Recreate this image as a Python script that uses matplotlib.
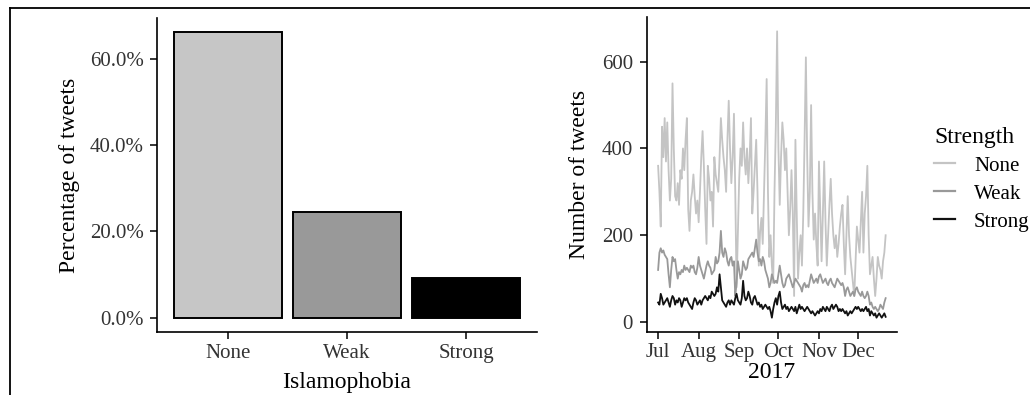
import numpy as np
import pandas as pd
import matplotlib
matplotlib.use('Agg')
import matplotlib.pyplot as plt
import matplotlib.dates as mdates
from matplotlib.lines import Line2D

plt.rcParams['font.family'] = ['Liberation Serif', 'DejaVu Serif']

# bar panel
levels = ['None', 'Weak', 'Strong']
share = [66.2, 24.5, 9.3]
bar_colors = ['#c6c6c6', '#999999', '#000000']

# daily counts, 2017-07-01 onward
none_counts = [360, 300, 220, 450, 380, 470, 370, 460, 350, 280, 330, 550, 400, 290, 280,
               320, 270, 350, 330, 400, 350, 420, 470, 260, 210, 280, 300, 340, 290, 250,
               280, 230, 300, 380, 440, 360, 260, 180, 360, 330, 280, 300, 220, 380, 340,
               320, 300, 380, 470, 420, 380, 350, 300, 420, 510, 400, 320, 380, 480, 300,
               80, 200, 330, 400, 360, 460, 380, 340, 400, 320, 380, 470, 250, 300, 360,
               420, 300, 130, 210, 240, 180, 300, 420, 560, 300, 150, 200, 130, 90, 300,
               450, 670, 400, 270, 380, 460, 420, 350, 400, 300, 200, 260, 350, 250, 60,
               420, 250, 100, 160, 200, 130, 250, 420, 610, 380, 220, 300, 500, 300, 190,
               250, 180, 130, 370, 250, 140, 250, 370, 230, 130, 200, 270, 330, 250, 200,
               170, 200, 150, 180, 220, 250, 270, 180, 110, 200, 290, 200, 150, 120, 90,
               60, 140, 220, 190, 160, 230, 300, 160, 250, 290, 360, 200, 110, 130, 150,
               100, 60, 100, 150, 130, 120, 100, 140, 160, 200]
weak_counts = [120, 160, 170, 160, 165, 155, 150, 145, 110, 80, 120, 150, 140, 145, 120,
               100, 115, 110, 120, 115, 130, 120, 125, 120, 115, 130, 125, 130, 115, 110,
               125, 150, 130, 120, 110, 100, 115, 130, 140, 130, 125, 110, 115, 120, 150,
               135, 140, 160, 210, 160, 150, 170, 160, 140, 130, 145, 150, 130, 140, 60,
               90, 140, 120, 100, 110, 140, 130, 120, 125, 145, 150, 155, 160, 150, 170,
               190, 160, 140, 145, 130, 150, 140, 120, 110, 100, 80, 90, 110, 100, 90,
               95, 90, 110, 130, 110, 90, 80, 85, 100, 105, 110, 100, 90, 80, 90,
               100, 95, 90, 85, 80, 70, 85, 90, 80, 85, 80, 95, 110, 100, 90,
               95, 100, 90, 105, 110, 100, 90, 95, 100, 90, 85, 95, 100, 90, 85,
               80, 90, 100, 95, 90, 85, 90, 80, 60, 75, 80, 70, 60, 65, 70,
               60, 75, 80, 70, 65, 60, 70, 60, 55, 60, 70, 60, 40, 45, 35,
               30, 35, 30, 25, 30, 40, 35, 30, 45, 55]
strong_counts = [45, 40, 65, 55, 40, 45, 50, 55, 45, 35, 50, 60, 55, 40, 50,
                 45, 55, 50, 35, 45, 55, 50, 55, 45, 40, 35, 30, 45, 55, 50,
                 40, 45, 50, 40, 50, 55, 60, 55, 50, 60, 55, 70, 65, 60, 65,
                 80, 70, 110, 80, 50, 45, 40, 35, 45, 50, 40, 50, 45, 40, 55,
                 65, 50, 45, 40, 55, 95, 60, 50, 55, 70, 60, 45, 40, 55, 60,
                 50, 40, 45, 35, 40, 30, 35, 40, 35, 30, 35, 25, 10, 30, 45,
                 55, 40, 60, 70, 45, 30, 35, 40, 30, 35, 25, 30, 35, 30, 25,
                 35, 20, 30, 40, 30, 35, 30, 25, 30, 35, 30, 25, 20, 25, 20,
                 15, 20, 25, 20, 30, 25, 35, 30, 25, 35, 30, 25, 35, 40, 30,
                 35, 40, 35, 25, 30, 25, 30, 25, 20, 25, 15, 20, 25, 20, 25,
                 30, 35, 30, 35, 30, 25, 30, 25, 30, 35, 25, 30, 15, 25, 20,
                 15, 20, 10, 15, 20, 15, 10, 15, 20, 12]
dates = pd.date_range('2017-07-01', periods=len(none_counts), freq='D')
line_colors = ['#c4c4c4', '#999999', '#111111']

fig = plt.figure(figsize=(10.3, 3.95), dpi=100)

def classic(ax, pad):
    for s in ['top', 'right']:
        ax.spines[s].set_visible(False)
    for s in ['left', 'bottom']:
        ax.spines[s].set_linewidth(1.2)
    ax.tick_params(direction='out', length=5, width=1.1, labelsize=15,
                   labelcolor='#333333', pad=pad)

ax1 = fig.add_axes([0.152, 0.1595, 0.3697, 0.795])
pos = np.arange(len(levels))
ax1.bar(pos, share, 0.9, color=bar_colors, edgecolor='black', linewidth=1.4)
ax1.set_xlim(-0.6, len(levels) - 0.4)
top = max(share)
ax1.set_ylim(-0.05 * top, 1.05 * top)
ax1.set_yticks([0, 20, 40, 60])
ax1.set_yticklabels(['0.0%', '20.0%', '40.0%', '60.0%'])
ax1.set_xticks(pos)
ax1.set_xticklabels(levels)
classic(ax1, 4)
ax1.set_xlabel('Islamophobia', fontsize=17, labelpad=6)
ax1.set_ylabel('Percentage of tweets', fontsize=17, labelpad=7)

ax2 = fig.add_axes([0.6279, 0.1595, 0.243, 0.7975])
series = [none_counts, weak_counts, strong_counts]
for name, vals, c in zip(levels, series, line_colors):
    ax2.plot(dates, vals, color=c, lw=1.3, label=name)
ax2.margins(x=0.05, y=0.05)
ax2.set_yticks([0, 200, 400, 600])
ax2.xaxis.set_major_locator(mdates.MonthLocator())
ax2.xaxis.set_major_formatter(mdates.DateFormatter('%b'))
classic(ax2, 5)
ax2.tick_params(axis='x', pad=3)
ax2.set_xlabel('2017', fontsize=17, labelpad=0)
ax2.set_ylabel('Number of tweets', fontsize=17, labelpad=8)

handles = [Line2D([], [], color=c, lw=1.6) for c in line_colors]
fig.legend(handles, levels, title='Strength', loc='upper left',
           bbox_to_anchor=(0.899, 0.70), frameon=False, fontsize=15,
           title_fontsize=17, handlelength=1.0, handletextpad=0.9,
           labelspacing=0.4, alignment='left', borderaxespad=0.0)

# border of the original box
fig.add_artist(Line2D([0.0097, 0.0097], [0, 1 - 8 / 395], color='black', lw=1.3))
fig.add_artist(Line2D([0.0097, 1], [1 - 8 / 395, 1 - 8 / 395], color='black', lw=1.3))

fig.savefig('out.png', dpi=100)
